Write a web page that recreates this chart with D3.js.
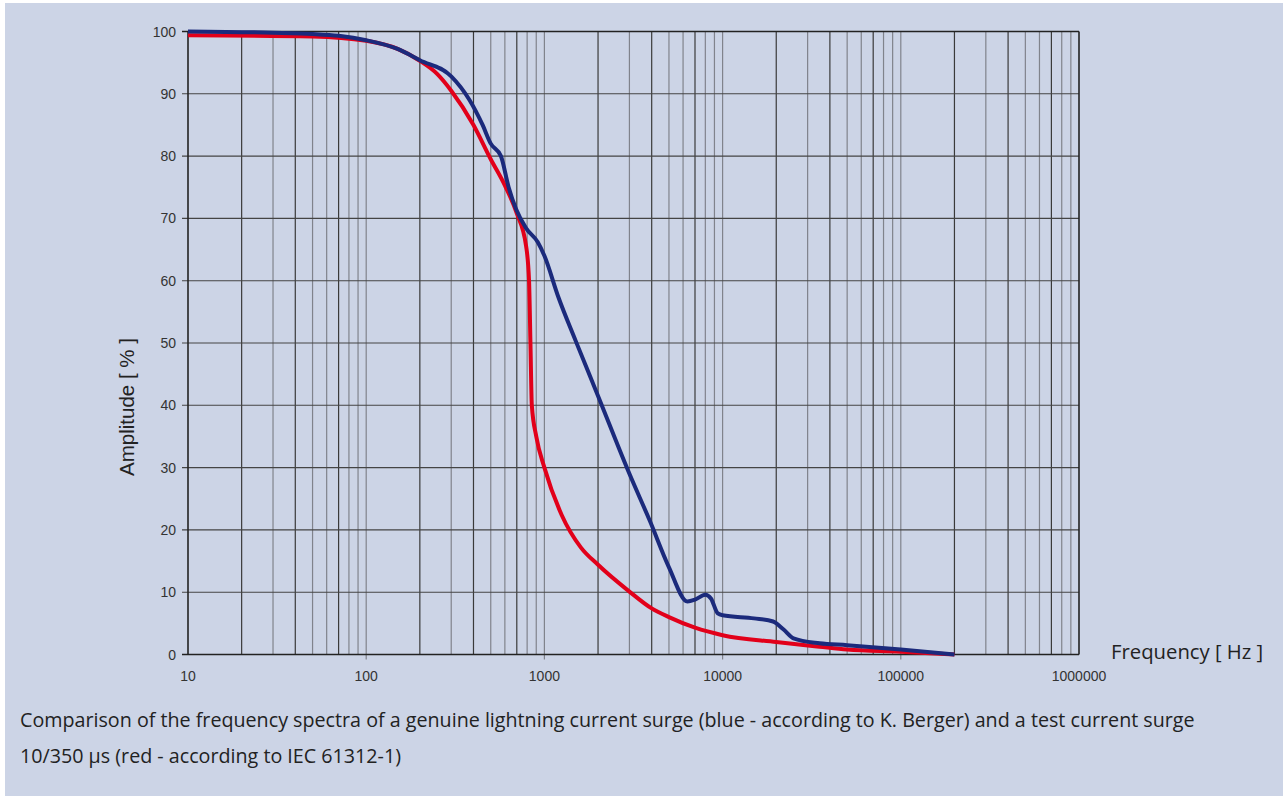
<!DOCTYPE html>
<html>
<head>
<meta charset="utf-8">
<script src="https://cdn.jsdelivr.net/npm/d3@7"></script>
<style>
  body { margin: 0; background: #fff; }
  svg { display: block; }
  .tick-label { font-family: "Liberation Sans", Arial, sans-serif; font-size: 14px; fill: #333; }
  .axis-title { font-family: "Liberation Sans", Arial, sans-serif; font-size: 20.5px; fill: #222; }
  .caption { font-family: "Open Sans", "Lato", sans-serif; font-size: 19.7px; fill: #222; }
  .freq { font-family: "Open Sans", "Lato", sans-serif; font-size: 20.3px; fill: #222; }
</style>
</head>
<body>
<svg></svg>
<script>
var width = 1285,
    height = 796;

// blue - genuine lightning current surge (K. Berger)
var blueFreq = [10, 30, 50, 70, 100, 150, 200, 300, 380, 450, 500, 570, 630, 693, 790, 917, 1000, 1200, 1500, 2000, 3000, 3900, 5000, 6350, 7000, 8000, 8600, 9400, 10000, 15000, 19200, 22000, 25000, 35000, 50000, 100000, 200000];
var blueAmp = [100, 99.8, 99.6, 99.3, 98.6, 97.2, 95.4, 92.8, 89, 85, 82, 80, 75, 71.5, 68.4, 66.2, 64, 57.3, 50.3, 41.5, 29, 21.5, 14, 8.5, 8.8, 9.6, 9.0, 6.6, 6.3, 5.8, 5.3, 4, 2.6, 1.8, 1.5, 0.8, 0];

// red - test current surge 10/350 us (IEC 61312-1)
var redFreq = [10, 50, 100, 150, 200, 250, 300, 400, 500, 600, 700, 790, 820, 835, 850, 900, 1000, 1250, 1600, 2000, 3000, 4000, 5000, 7000, 10000, 20000, 35000, 50000, 100000, 200000];
var redAmp = [99.4, 99.2, 98.5, 97.2, 95.3, 93.2, 90.5, 85, 79.5, 75.3, 70.8, 65.5, 60, 50, 40, 35, 30, 22.4, 17.2, 14.4, 10.1, 7.4, 6.0, 4.3, 3.1, 2.0, 1.25, 0.8, 0.45, 0];

var yTicks = [0, 10, 20, 30, 40, 50, 60, 70, 80, 90, 100];
var xDecades = [10, 100, 1000, 10000, 100000, 1000000];

var svg = d3.select("svg")
    .attr("width", width)
    .attr("height", height);

svg.append("rect")
    .attr("x", 5).attr("y", 3)
    .attr("width", 1278).attr("height", 793)
    .attr("fill", "#ccd4e6");

var x = d3.scaleLog().domain([10, 1000000]).range([188, 1079]),
    y = d3.scaleLinear().domain([0, 100]).range([654.5, 31.5]);

// minor vertical grid
var minor = [];
for (var d = 10; d < 1000000; d *= 10) {
    for (var m = 2; m <= 9; m++) minor.push({ f: d * m, m: m });
}
var grid = svg.append("g").attr("class", "grid");

grid.selectAll(".vminor")
    .data(minor)
    .enter().append("line")
    .attr("x1", function (d) { return x(d.f); })
    .attr("x2", function (d) { return x(d.f); })
    .attr("y1", y(100))
    .attr("y2", y(0))
    .attr("stroke", function (d) { return (d.m == 2 || d.m == 4 || d.m == 7) ? "#3a3a3a" : "#80838c"; })
    .attr("stroke-width", 1.2);

grid.selectAll(".vmajor")
    .data(xDecades.slice(1, -1))
    .enter().append("line")
    .attr("x1", function (d) { return x(d); })
    .attr("x2", function (d) { return x(d); })
    .attr("y1", y(100))
    .attr("y2", y(0) + 5)
    .attr("stroke", "#80838c")
    .attr("stroke-width", 1.2);

grid.selectAll(".hline")
    .data(yTicks)
    .enter().append("line")
    .attr("x1", 182)
    .attr("x2", 1079)
    .attr("y1", function (d) { return y(d); })
    .attr("y2", function (d) { return y(d); })
    .attr("stroke", function (d) { return d == 0 || d == 100 ? "#222" : "#444"; })
    .attr("stroke-width", function (d) { return d == 0 || d == 100 ? 1.6 : 1.1; });

// frame
svg.append("line").attr("x1", 188).attr("x2", 188).attr("y1", y(100)).attr("y2", y(0))
    .attr("stroke", "#222").attr("stroke-width", 1.6);
svg.append("line").attr("x1", 1079).attr("x2", 1079).attr("y1", y(100)).attr("y2", y(0))
    .attr("stroke", "#222").attr("stroke-width", 1.6);

// tick labels
svg.selectAll(".ylab")
    .data(yTicks)
    .enter().append("text")
    .attr("class", "tick-label")
    .attr("x", 176)
    .attr("y", function (d) { return y(d) + 5; })
    .attr("text-anchor", "end")
    .text(function (d) { return d; });

svg.selectAll(".xlab")
    .data(xDecades)
    .enter().append("text")
    .attr("class", "tick-label")
    .attr("x", function (d) { return x(d); })
    .attr("y", 681)
    .attr("text-anchor", "middle")
    .text(function (d) { return d; });

// curves
var line = d3.line()
    .curve(d3.curveMonotoneX)
    .x(function (d) { return x(d[0]); })
    .y(function (d) { return y(d[1]); });

var red = d3.zip(redFreq, redAmp),
    blue = d3.zip(blueFreq, blueAmp);

svg.append("path")
    .datum(red)
    .attr("fill", "none")
    .attr("stroke", "#e2001a")
    .attr("stroke-width", 4)
    .attr("d", line);

svg.append("path")
    .datum(blue)
    .attr("fill", "none")
    .attr("stroke", "#1b2a7c")
    .attr("stroke-width", 4)
    .attr("d", line);

// titles
svg.append("text")
    .attr("class", "axis-title")
    .attr("transform", "translate(134,407) rotate(-90)")
    .attr("text-anchor", "middle")
    .text("Amplitude [ % ]");

svg.append("text")
    .attr("class", "freq")
    .attr("x", 1111)
    .attr("y", 659)
    .text("Frequency [ Hz ]");

svg.append("text")
    .attr("class", "caption")
    .attr("x", 20)
    .attr("y", 727)
    .text("Comparison of the frequency spectra of a genuine lightning current surge (blue - according to K. Berger) and a test current surge");

svg.append("text")
    .attr("class", "caption")
    .attr("x", 20)
    .attr("y", 763)
    .text("10/350 μs (red - according to IEC 61312-1)");
</script>
</body>
</html>
